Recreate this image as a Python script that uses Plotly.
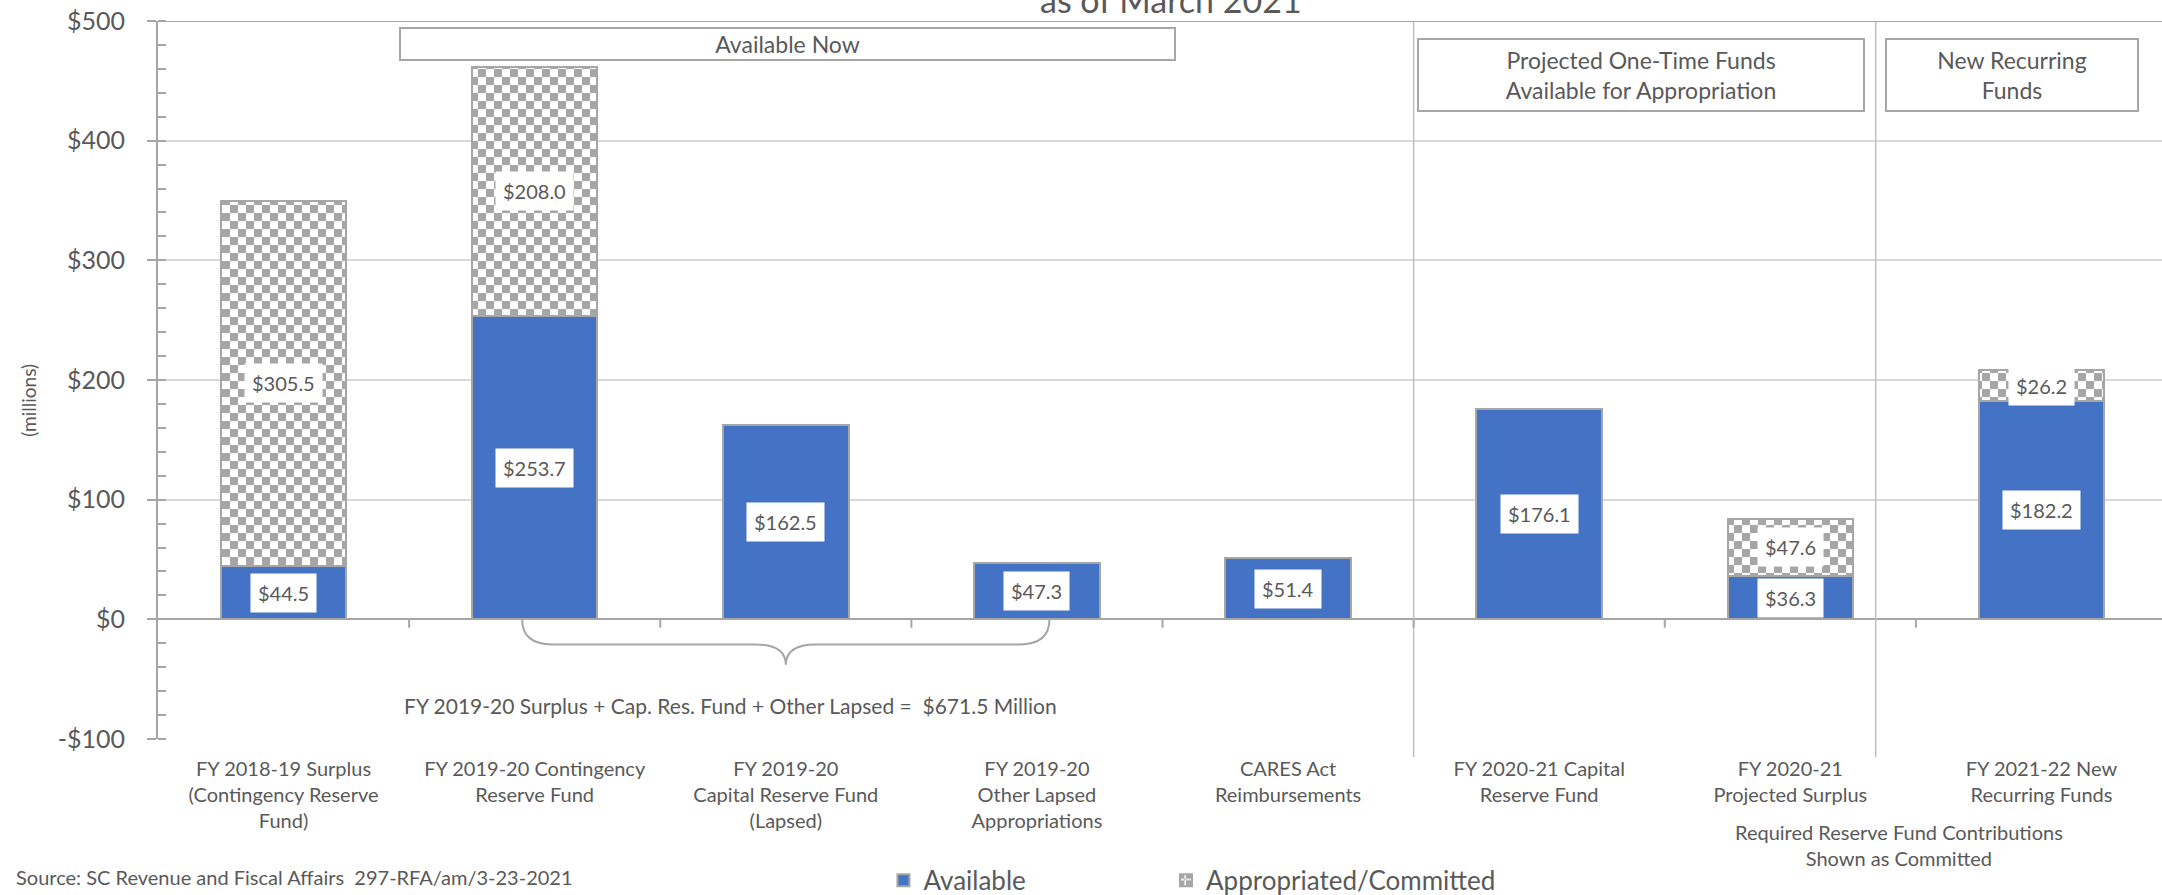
import plotly.graph_objects as go

# ---- data ----
categories = [
    "FY 2018-19 Surplus<br>(Contingency Reserve<br>Fund)",
    "FY 2019-20 Contingency<br>Reserve Fund",
    "FY 2019-20<br>Capital Reserve Fund<br>(Lapsed)",
    "FY 2019-20<br>Other Lapsed<br>Appropriations",
    "CARES Act<br>Reimbursements",
    "FY 2020-21 Capital<br>Reserve Fund",
    "FY 2020-21<br>Projected Surplus",
    "FY 2021-22 New<br>Recurring Funds",
]
available = [44.5, 253.7, 162.5, 47.3, 51.4, 176.1, 36.3, 182.2]
committed = [305.5, 208.0, None, None, None, None, 47.6, 26.2]
y_ticks = [-100, 0, 100, 200, 300, 400, 500]

BLUE = "#4472C4"
GREY = "#A6A6A6"
TEXT = "#595959"
FONT = "Lato"

x = list(range(len(categories)))


def money(v):
    return ("-$" if v < 0 else "$") + f"{abs(v):,.1f}"


def tick_money(v):
    return ("-$" if v < 0 else "$") + f"{abs(v)}"


def note(text, x, y, size=20, **kw):
    # paper-positioned text, anchored on its centre unless told otherwise
    opts = dict(xref="paper", yref="paper", xanchor="center", yanchor="middle",
                showarrow=False, font=dict(family=FONT, size=size, color=TEXT))
    opts.update(kw)
    fig.add_annotation(x=x, y=y, text=text, **opts)


fig = go.Figure()
fig.add_trace(go.Bar(
    x=x, y=available, name="Available", width=0.5, legend="legend",
    marker=dict(color=BLUE, line=dict(color=GREY, width=2)),
))
fig.add_trace(go.Bar(
    x=x, y=committed, name="Appropriated/Committed", width=0.5, legend="legend2",
    marker=dict(
        color="white", line=dict(color=GREY, width=2),
        pattern=dict(path="M0,0H8V8H0ZM8,8H16V16H8Z", size=16,
                     fgcolor=GREY, bgcolor="white", fgopacity=1, fillmode="replace"),
    ),
))

# value labels in white boxes
label_font = dict(family=FONT, size=20, color=TEXT)
for i, v in enumerate(available):
    fig.add_annotation(x=i, y=v / 2, text=money(v), showarrow=False,
                       bgcolor="white", borderpad=7, font=label_font)
for i, (a, c) in enumerate(zip(available, committed)):
    if c:
        fig.add_annotation(x=i, y=a + c / 2, text=money(c), showarrow=False,
                           bgcolor="white", borderpad=7, font=label_font)

# header boxes
box = dict(borderpad=0, bordercolor=GREY, borderwidth=2, bgcolor="white")
note("Available Now", 0.314, 0.968, size=23, width=773, height=30, **box)
note("Projected One-Time Funds<br>Available for Appropriation", 0.740, 0.925, size=23,
     width=444, height=70, **box)
note("New Recurring<br>Funds", 0.925, 0.925, size=23, width=250, height=70, **box)

# title (cut off at top of the picture)
note("as of March 2021", 0.5055, 1.0306, size=34)

# y title
note("(millions)", -0.065, 0.472, size=19, textangle=-90)

# brace + note under the three bars
x0, xm, x1, hy, ty = 0.95, 2.0, 3.05, -21, -38
brace = (f"M{x0},0 Q{x0},{hy} {x0 + 0.12},{hy} L{xm - 0.12},{hy} Q{xm},{hy} {xm},{ty} "
         f"Q{xm},{hy} {xm + 0.12},{hy} L{x1 - 0.12},{hy} Q{x1},{hy} {x1},0")
fig.add_shape(type="path", path=brace, xref="x", yref="y",
              line=dict(color=GREY, width=2))
fig.add_annotation(x=1.78, y=-72, showarrow=False,
                   text="FY 2019-20 Surplus + Cap. Res. Fund + Other Lapsed =  $671.5 Million",
                   font=dict(family=FONT, size=21, color=TEXT))

# separators, small category ticks on the zero line, top border
for sx in [4.5, 6.34]:
    fig.add_shape(type="line", xref="x", yref="paper", x0=sx, x1=sx, y0=-0.025, y1=1,
                  line=dict(color="#BFBFBF", width=1.5))
for b in range(len(categories) - 1):
    fig.add_shape(type="line", xref="x", yref="y", x0=b + 0.5, x1=b + 0.5, y0=0, y1=-7,
                  line=dict(color=GREY, width=2))
fig.add_shape(type="line", xref="paper", yref="y", x0=0, x1=1, y0=500, y1=500,
              line=dict(color=GREY, width=2))

# footnotes
note("Source: SC Revenue and Fiscal Affairs  297-RFA/am/3-23-2021", -0.0719, -0.192,
     xanchor="left")
note("Required Reserve Fund Contributions<br>Shown as Committed", 0.869, -0.148)

leg = dict(orientation="h", y=-0.197, xanchor="left", yanchor="middle", visible=True,
           font=dict(family=FONT, size=26, color=TEXT), bgcolor="rgba(0,0,0,0)")

fig.update_layout(
    width=2162, height=895, autosize=False,
    margin=dict(l=158, r=0, t=21, b=156, autoexpand=False),
    plot_bgcolor="white", paper_bgcolor="white",
    barmode="stack", showlegend=True,
    font=dict(family=FONT, size=20, color=TEXT),
    legend=dict(x=0.362, **leg),
    legend2=dict(x=0.503, **leg),
    xaxis=dict(range=[-0.5, 7.48], tickvals=x, ticktext=categories, showgrid=False,
               ticks="", zeroline=False, ticklabelstandoff=16,
               tickfont=dict(family=FONT, size=20, color=TEXT)),
    yaxis=dict(range=[-100, 500], tickvals=y_ticks, ticktext=[tick_money(v) for v in y_ticks],
               gridcolor="#D9D9D9", gridwidth=1.5,
               zeroline=True, zerolinecolor=GREY, zerolinewidth=2,
               showline=True, linecolor=GREY, linewidth=2,
               ticks="outside", ticklen=9, tickcolor=GREY, tickwidth=2,
               ticklabelstandoff=17,
               tickfont=dict(family=FONT, size=25, color=TEXT),
               minor=dict(ticks="inside", ticklen=8, tickcolor=GREY, tickwidth=2,
                          dtick=20, tick0=0, showgrid=False)),
)

# the page body has a default 8px margin; drop it so the figure sits at the corner
fig.write_html("out.html", config={"displayModeBar": False},
               post_script="document.body.style.margin='0';")
